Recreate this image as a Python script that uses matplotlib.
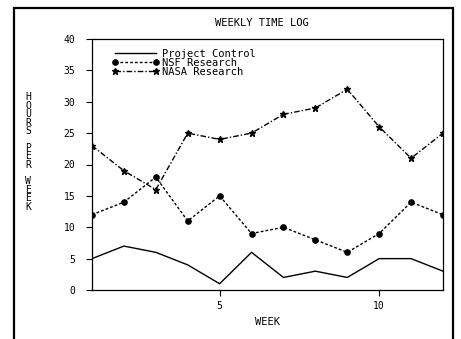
import matplotlib
matplotlib.use("Agg")
import matplotlib.pyplot as plt
from matplotlib.patches import Rectangle

weeks = [1, 2, 3, 4, 5, 6, 7, 8, 9, 10, 11, 12]
project_control = [5, 7, 6, 4, 1, 6, 2, 3, 2, 5, 5, 3]
nsf_research = [12, 14, 18, 11, 15, 9, 10, 8, 6, 9, 14, 12]
nasa_research = [23, 19, 16, 25, 24, 25, 28, 29, 32, 26, 21, 25]

y_ticks = [0, 5, 10, 15, 20, 25, 30, 35, 40]
x_ticks = [5, 10]

plt.rcParams["font.family"] = ["DejaVu Sans Mono"]
plt.rcParams["font.size"] = 7

W, H = 461, 339
fig = plt.figure(figsize=(W / 100, H / 100), dpi=100)
ax = fig.add_axes([92 / W, 1 - 290 / H, (443 - 92) / W, (290 - 39) / H])

ax.plot(weeks, project_control, color="black", lw=1.0, label="Project Control")
ax.plot(weeks, nsf_research, color="black", lw=1.0, ls=(0, (2, 1.5)),
        marker="o", ms=3.8, label="NSF Research")
ax.plot(weeks, nasa_research, color="black", lw=1.0, ls=(0, (4, 1.5, 1, 1.5)),
        marker="*", ms=5, label="NASA Research")

ax.set_xlim(1, 12)
ax.set_ylim(0, 40)
ax.set_xticks(x_ticks)
ax.set_yticks(y_ticks)
ax.tick_params(direction="out", length=4, width=0.8, labelsize=7)
ax.tick_params(axis="y", pad=8)
ax.tick_params(axis="x", pad=4)
for sp in ax.spines.values():
    sp.set_linewidth(0.9)

leg = ax.legend(loc="upper left", bbox_to_anchor=(0.058, 0.96), frameon=False,
                handlelength=4.5, handletextpad=0.3, labelspacing=-0.1,
                numpoints=2, fontsize=7.5, borderpad=0, borderaxespad=0)

fig.text(262 / W, 1 - 23 / H, "WEEKLY TIME LOG", ha="center", va="center",
         fontsize=7.5)
fig.text(267 / W, 1 - 322 / H, "WEEK", ha="center", va="center", fontsize=7.5)
fig.text(28 / W, 1 - 152 / H, "\n".join("HOURS PER WEEK"), ha="center",
         va="center", fontsize=7, linespacing=0.8)

# outer border around the whole sheet
fig.patches.append(Rectangle((14 / W, -0.05), (453 - 14) / W, (1 - 8 / H) + 0.05,
                             transform=fig.transFigure, fill=False,
                             edgecolor="black", lw=1.6))

fig.savefig("out.png", dpi=100)
